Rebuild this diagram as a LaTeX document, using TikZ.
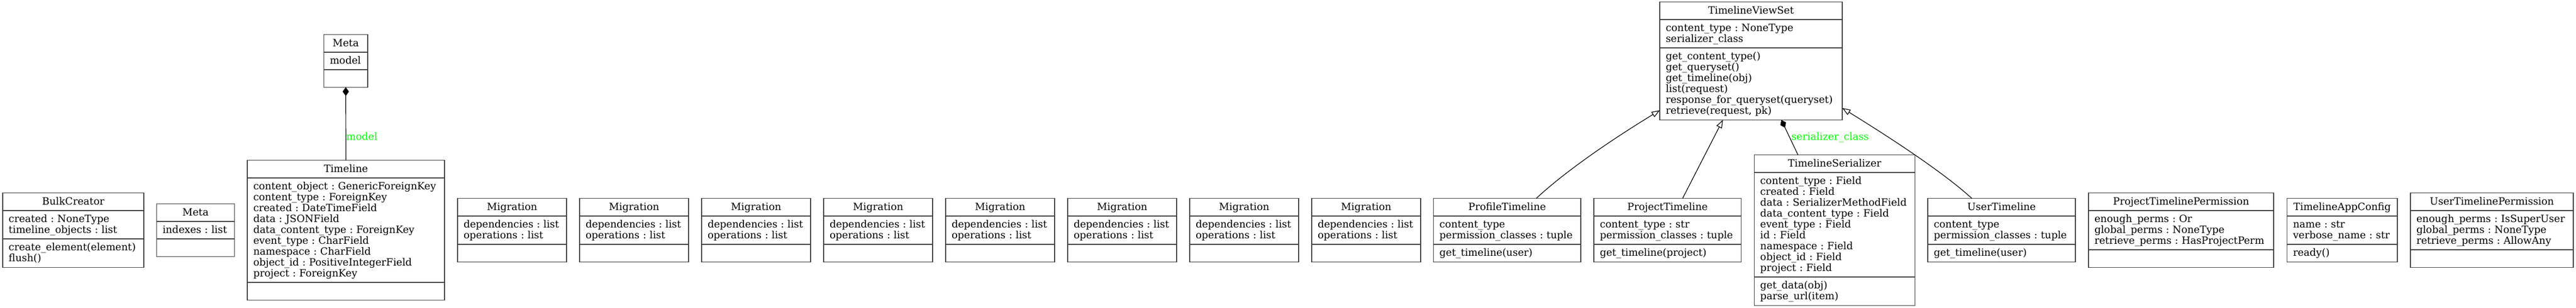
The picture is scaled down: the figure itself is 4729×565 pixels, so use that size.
\documentclass[tikz,border=0pt]{standalone}
\usepackage{fontspec}
\setmainfont{DejaVu Serif}
\usetikzlibrary{shapes.multipart,arrows.meta,calc}
\setlength\parindent{0pt}
\frenchspacing
\newcommand\ustr{\rule[-4.5pt]{0pt}{20pt}}
\newcommand\Lc[1]{\mbox{\ustr#1}}
\definecolor{boxcol}{gray}{0.25}
\definecolor{lblgreen}{rgb}{0,1,0}
\tikzset{
  umlbox/.style={rectangle split, rectangle split parts=3, draw=boxcol, line width=1.5pt,
    inner xsep=11pt, inner ysep=5.35pt, font=\fontsize{18.4}{20}\selectfont\frenchspacing,
    align=left, anchor=west, outer sep=0pt},
  edge/.style={line width=1.2pt, draw=black},
  compo/.style={-{Diamond[length=16pt,width=11.5pt,fill=black]}},
  inh/.style={-{Triangle[length=15pt,width=11pt,fill=white]}},
  lbl/.style={text=lblgreen, font=\fontsize{18.4}{20}\selectfont, inner sep=0pt, anchor=base west},
}
\newcommand\umlcls[7]{%
  \node[umlbox, text width=\dimexpr#4pt-22pt\relax] (#1) at (#2,#3)
    {\hbox to\hsize{\hfil\ustr #5\hfil}\nodepart{two}#6\nodepart{three}#7};}
\begin{document}
\begin{tikzpicture}[x=1pt,y=-1pt]
\useasboundingbox[fill=white] (0,0) rectangle (4729,565);

\umlcls{bulk}{5}{423}{259}{BulkCreator}
  {\Lc{created : NoneType}\\\Lc{timeline\_objects : list}}
  {\Lc{create\_element(element)}\\\Lc{flush()}}
\umlcls{metaidx}{287.5}{423}{143}{Meta}{\Lc{indexes : list}}{\Lc{}}
\umlcls{timeline}{454}{423}{362}{Timeline}
  {\Lc{content\_object : GenericForeignKey}\\\Lc{content\_type : ForeignKey}\\\Lc{created : DateTimeField}\\\Lc{data : JSONField}\\\Lc{data\_content\_type : ForeignKey}\\\Lc{event\_type : CharField}\\\Lc{namespace : CharField}\\\Lc{object\_id : PositiveIntegerField}\\\Lc{project : ForeignKey}}
  {\Lc{}}
\umlcls{metatop}{594.5}{112}{80.5}{Meta}{\Lc{model}}{\Lc{}}
\foreach \i in {0,...,7} {
  \umlcls{mig\i}{840+224*\i}{423}{200}{Migration}
    {\Lc{dependencies : list}\\\Lc{operations : list}}{\Lc{}}
}
\umlcls{profile}{2631.6}{423}{270.4}{ProfileTimeline}
  {\Lc{content\_type}\\\Lc{permission\_classes : tuple}}
  {\Lc{get\_timeline(user)}}
\umlcls{project}{2926}{423}{270.4}{ProjectTimeline}
  {\Lc{content\_type : str}\\\Lc{permission\_classes : tuple}}
  {\Lc{get\_timeline(project)}}
\umlcls{ser}{3220.4}{423}{295.2}{TimelineSerializer}
  {\Lc{content\_type : Field}\\\Lc{created : Field}\\\Lc{data : SerializerMethodField}\\\Lc{data\_content\_type : Field}\\\Lc{event\_type : Field}\\\Lc{id : Field}\\\Lc{namespace : Field}\\\Lc{object\_id : Field}\\\Lc{project : Field}}
  {\Lc{get\_data(obj)}\\\Lc{parse\_url(item)}}
\umlcls{user}{3539}{423}{271}{UserTimeline}
  {\Lc{content\_type}\\\Lc{permission\_classes : tuple}}
  {\Lc{get\_timeline(user)}}
\umlcls{ptp}{3834}{423}{340}{ProjectTimelinePermission}
  {\Lc{enough\_perms : Or}\\\Lc{global\_perms : NoneType}\\\Lc{retrieve\_perms : HasProjectPerm}}
  {\Lc{}}
\umlcls{appcfg}{4198.5}{423}{202.5}{TimelineAppConfig}
  {\Lc{name : str}\\\Lc{verbose\_name : str}}
  {\Lc{ready()}}
\umlcls{utp}{4425}{423}{299}{UserTimelinePermission}
  {\Lc{enough\_perms : IsSuperUser}\\\Lc{global\_perms : NoneType}\\\Lc{retrieve\_perms : AllowAny}}
  {\Lc{}}
\umlcls{vs}{3047}{112}{335}{TimelineViewSet}
  {\Lc{content\_type : NoneType}\\\Lc{serializer\_class}}
  {\Lc{get\_content\_type()}\\\Lc{get\_queryset()}\\\Lc{get\_timeline(obj)}\\\Lc{list(request)}\\\Lc{response\_for\_queryset(queryset)}\\\Lc{retrieve(request, pk)}}

% connectors
\draw[edge, compo] (timeline.north) -- (metatop.south);
\node[lbl] (lmodel) at (635.7,257.3) {model};

\draw[edge, compo] ($(ser.north west)!0.272!(ser.north east)$) -- ($(vs.south west)!0.666!(vs.south east)$);
\node[lbl] (lser) at (3288.3,257.7) {serializer\_class};

\draw[edge, inh] ($(profile.north west)!0.697!(profile.north east)$)
  .. controls +(60,-56) and +(-72.7,44.3) .. ($(vs.north west)!0.919!(vs.south west)$);
\draw[edge, inh] ($(project.north west)!0.602!(project.north east)$)
  -- ($(vs.south west)!0.3457!(vs.south east)$);
\draw[edge, inh] ($(user.north west)!0.299!(user.north east)$)
  .. controls +(-60,-54.7) and +(64.7,40) .. ($(vs.north east)!0.9!(vs.south east)$);
\end{tikzpicture}
\end{document}
